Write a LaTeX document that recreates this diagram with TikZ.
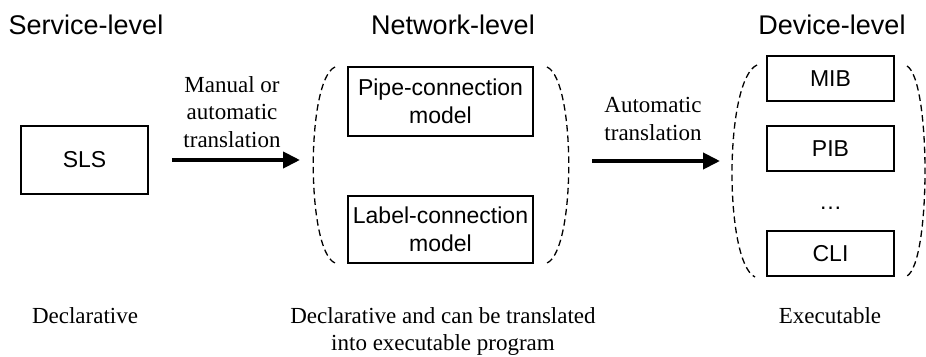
\documentclass[tikz,border=0pt]{standalone}
\usepackage{fontspec}
\setmainfont{Liberation Serif}
\setsansfont{Liberation Sans}
\usetikzlibrary{arrows.meta}
\tikzset{
  hdr/.style={font=\sffamily\fontsize{27}{32}\selectfont, inner sep=0pt, anchor=base},
  box/.style={draw, line width=1.5pt, font=\sffamily\fontsize{23}{28}\selectfont, align=center, inner sep=0pt},
  lbl/.style={font=\rmfamily\fontsize{23}{27.5}\selectfont, align=center, inner sep=0pt},
  bigarrow/.style={line width=4pt, -{Triangle[length=17pt,width=16pt]}},
  paren/.style={line width=1.3pt, dash pattern=on 6.5pt off 4pt}
}
\begin{document}
\begin{tikzpicture}[x=1pt,y=-1pt]
\useasboundingbox (0,0) rectangle (926,356);
% headers
\node[hdr] (hsvc) at (86,34) {Service-level};
\node[hdr] (hnet) at (453,34) {Network-level};
\node[hdr] (hdev) at (832,34) {Device-level};
% boxes
\node[box, minimum width=127pt, minimum height=68pt] (sls) at (84.5,160) {SLS};
\node[box, minimum width=185pt, minimum height=69pt] (pipe) at (440.5,101.5) {Pipe-connection\\model};
\node[box, minimum width=185pt, minimum height=67pt] (lab) at (440.5,229.5) {Label-connection\\model};
\node[box, minimum width=127pt, minimum height=45pt] (mib) at (830.5,78.5) {MIB};
\node[box, minimum width=127pt, minimum height=45pt] (pib) at (830.5,148.5) {PIB};
\node[font=\sffamily\fontsize{23}{28}\selectfont, inner sep=0pt, anchor=base] (dots) at (830.5,209) {\dots};
\node[box, minimum width=127pt, minimum height=45pt] (cli) at (830.5,253.5) {CLI};
% dashed parentheses
\draw[paren] (335,67) .. controls (306,80) and (306,250) .. (335,263);
\draw[paren] (547,67) .. controls (576,80) and (576,250) .. (547,263);
\draw[paren] (757,65) .. controls (724,80) and (724,262) .. (755,277);
\draw[paren] (907,66) .. controls (931,80) and (931,262) .. (907,276);
% arrow anchors
\coordinate (netL) at (313,160);
\coordinate (netR) at (569,161);
\coordinate (devL) at (732,161);
\draw[bigarrow, shorten <=23pt, shorten >=13pt] (sls.east) -- (netL);
\draw[bigarrow, shorten <=23pt, shorten >=12pt] (netR) -- (devL);
% arrow labels
\node[lbl] (l1) at (232,112) {Manual or\\automatic\\translation};
\node[lbl] (l2) at (653,119) {Automatic\\translation};
% bottom texts
\node[lbl, anchor=base] (b1) at (85,323) {Declarative};
\node[lbl] (b2) at (443,331.6) {Declarative and can be translated\\into executable program};
\node[lbl, anchor=base] (b3) at (830,323) {Executable};
\end{tikzpicture}
\end{document}
